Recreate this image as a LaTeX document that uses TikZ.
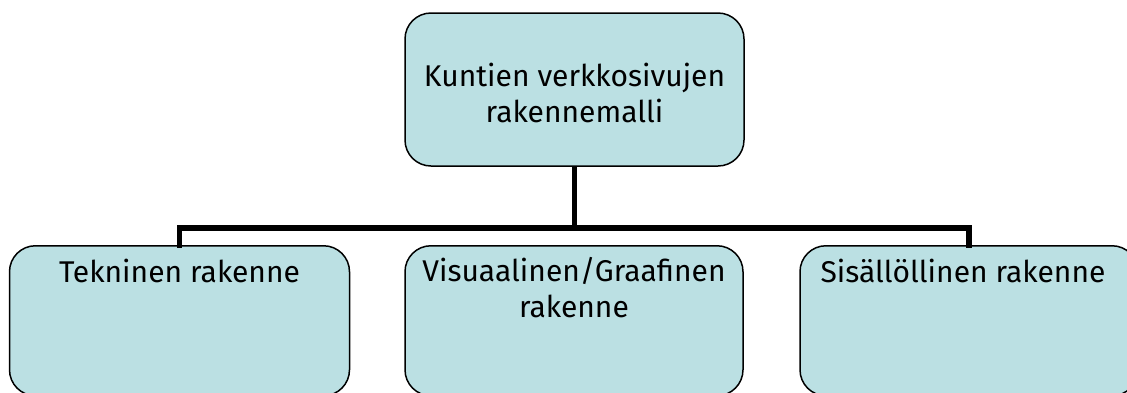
\documentclass[tikz,border=0pt]{standalone}
\usepackage{fontspec}
\setmainfont{Fira Sans}
\definecolor{boxfill}{HTML}{BBE0E3}
\tikzset{
  box/.style={draw=black, line width=1.5pt, fill=boxfill, rounded corners=26pt, inner sep=0pt},
  lbl/.style={font=\fontsize{30}{36}\selectfont, align=center, inner sep=0pt, text=black},
  conn/.style={line width=5.5pt, draw=black}
}
\begin{document}
\begin{tikzpicture}[x=1pt,y=-1pt]
\useasboundingbox (0,0) rectangle (1127,392);
\clip (0,0) rectangle (1127,392);
\node[box, minimum width=339pt, minimum height=153pt] (top) at (574.5,89.5) {};
\node[box, minimum width=340pt, minimum height=150pt, anchor=north] (left) at (179.5,245) {};
\node[box, minimum width=338pt, minimum height=150pt, anchor=north] (mid) at (574,245) {};
\node[box, minimum width=338pt, minimum height=150pt, anchor=north] (right) at (969,245) {};
\coordinate (bus) at (574,228);
\draw[conn] (top.south) -- (top.south |- bus);
\draw[conn, line cap=rect] (left.north) -- (left.north |- bus) -- (right.north |- bus) -- (right.north);
\node[lbl, anchor=base] (ttop) at (574.5,122) {Kuntien verkkosivujen\\rakennemalli};
\node[lbl, anchor=base] (tleft) at (179.5,282) {Tekninen rakenne};
\node[lbl, anchor=base] (tmid) at (574,317) {Visuaalinen/Graafinen\\rakenne};
\node[lbl, anchor=base] (tright) at (963,282) {Sisällöllinen rakenne};
\end{tikzpicture}
\end{document}
